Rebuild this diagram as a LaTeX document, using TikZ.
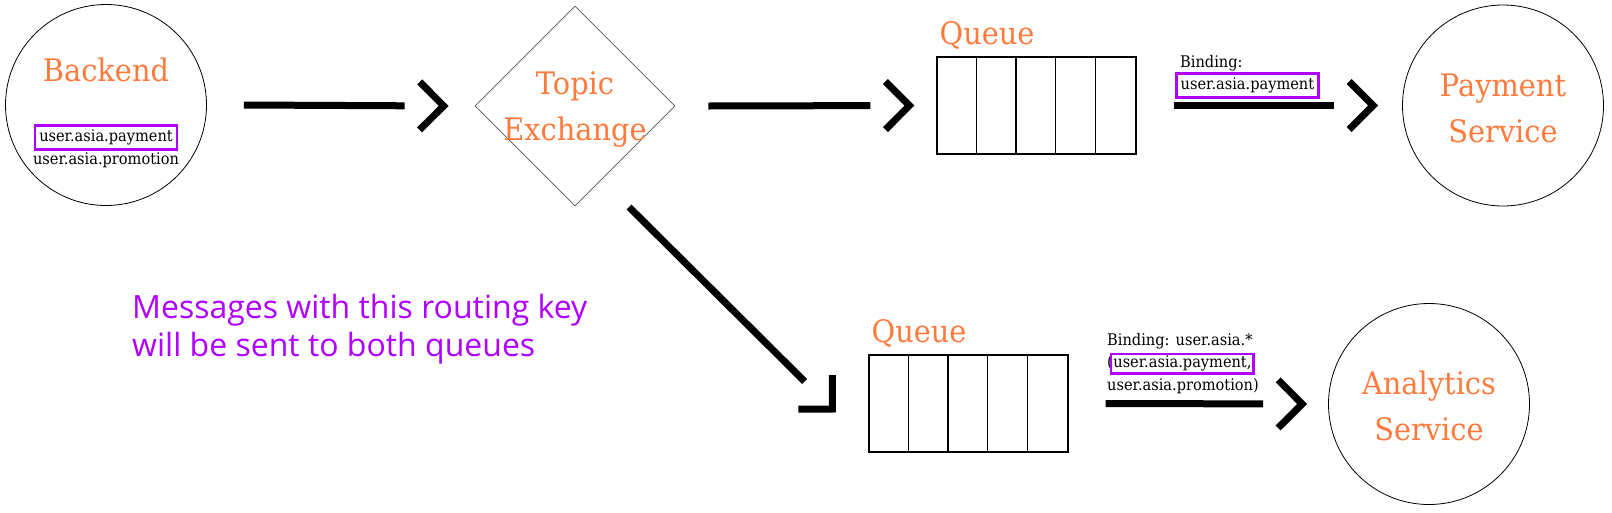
\documentclass[tikz,border=0pt]{standalone}
\usepackage{fontspec}
\setmainfont{DejaVu Serif}
\newfontfamily\titlefont[FakeStretch=0.93]{DejaVu Serif}
\newfontfamily\keyfont[FakeStretch=0.91]{DejaVu Serif}
\newfontfamily\notefont{Open Sans}
\usetikzlibrary{positioning,shapes.geometric,arrows.meta,decorations.markings}
\usepackage{xcolor}
\definecolor{titleorange}{HTML}{FF7A3D}
\definecolor{keypurple}{HTML}{B000FF}
\definecolor{edgegray}{HTML}{555555}
\newcommand{\keybox}[1]{{\setlength{\fboxsep}{3pt}\setlength{\fboxrule}{2.5pt}\fcolorbox{keypurple}{white}{#1}}}

\tikzset{
  svc/.style={draw,circle,minimum size=201pt,inner sep=0pt,line width=0.8pt},
  title/.style={text=titleorange,font=\titlefont\fontsize{31}{46}\selectfont,inner sep=0pt},
  keytext/.style={font=\keyfont\fontsize{16}{22.5}\selectfont,inner sep=0pt},
  queuebox/.style={draw,rectangle,minimum width=199pt,minimum height=97pt,inner sep=0pt,line width=1.2pt},
  flow/.style={line width=7pt,shorten >=44pt,
    postaction={decorate,decoration={markings,
      mark=at position 1 with {\arrow[line width=7pt]{Straight Barb[length=24pt,width=48pt]}}}}}
}

\begin{document}
\begin{tikzpicture}[x=1pt,y=-1pt]
\useasboundingbox (0,0) rectangle (1612,512);
% top row
\node[svc] (backend) at (106,105) {};
\node[title] (backendlbl) at (106,70) {Backend};
\node[keytext,align=center] (keys) at (106,146) {\keybox{user.asia.payment}\\user.asia.promotion};
\node[draw=edgegray,diamond,minimum width=200pt,minimum height=200pt,inner sep=0pt,line width=0.8pt] (exch) at (575,106) {};
\node[title,align=center] (exchlbl) at (575,110) {Topic\\Exchange};
\node[queuebox] (q1) at (1036.5,105.5) {};
\foreach \i in {1,...,4}
  \draw[line width=1.2pt] ([xshift=\i*39.8pt]q1.north west) -- ([xshift=\i*39.8pt]q1.south west);
\node[title,anchor=base west] (q1lbl) at ([shift={(3,-12)}]q1.north west) {Queue};
\node[keytext,align=left,anchor=south west] (bind1) at (1175,99) {\hspace*{5pt}Binding:\\\keybox{user.asia.payment}};
\node[svc] (pay) at (1503,105.5) {};
\node[title,align=center] (paylbl) at (1503,108) {Payment\\Service};
% bottom row
\node[queuebox] (q2) at (968.5,403.5) {};
\foreach \i in {1,...,4}
  \draw[line width=1.2pt] ([xshift=\i*39.8pt]q2.north west) -- ([xshift=\i*39.8pt]q2.south west);
\node[title,anchor=base west] (q2lbl) at ([shift={(3,-12)}]q2.north west) {Queue};
\node[keytext,align=left,anchor=north west] (bind2) at (1107,333) {Binding: user.asia.*\\({\setlength{\fboxsep}{1pt}\setlength{\fboxrule}{2.5pt}\kern-3pt\fcolorbox{keypurple}{white}{user.asia.payment,}}\\user.asia.promotion)};
\node[svc] (ana) at (1429,404) {};
\node[title,align=center] (analbl) at (1429,406) {Analytics\\Service};
\node[text=keypurple,font=\notefont\fontsize{32}{38}\selectfont,align=left,anchor=north west,inner sep=0pt] (note) at (132,294) {Messages with this routing key\\will be sent to both queues};
% connectors
\draw[flow] ([xshift=37pt]backend.east) -- ([xshift=-26pt]exch.west);
\draw[flow] ([xshift=33pt]exch.east) -- ([xshift=-22pt]q1.west);
\draw[flow] ([xshift=37pt]q1.east) -- ([xshift=-24pt]pay.west);
\draw[flow] ([shift={(54,101)}]exch.center) -- ([shift={(-32.5,9)}]q2.west);
\draw[flow] ([xshift=37pt]q2.east) -- ([xshift=-21pt]ana.west);
\end{tikzpicture}
\end{document}
